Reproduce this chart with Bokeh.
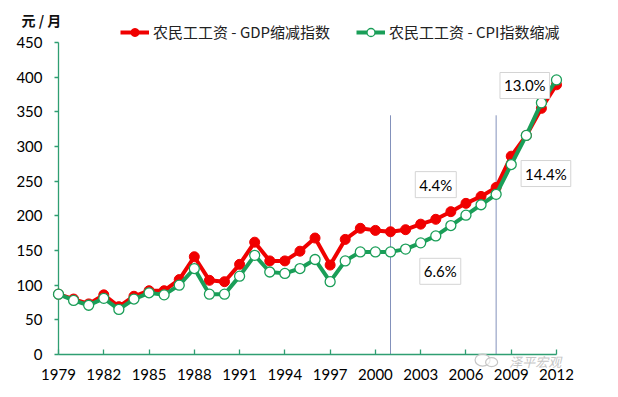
from bokeh.plotting import figure
from bokeh.models import Range1d, Legend, LegendItem, FixedTicker, ColumnDataSource
from bokeh.core.properties import value
from bokeh.embed import file_html
from bokeh.resources import INLINE

years = list(range(1979, 2013))
gdp_deflated = [87, 80, 73, 86, 69, 84, 92, 92, 108, 141,
                107, 105, 130, 162, 135, 135, 149, 168, 129, 166,
                182, 179, 177, 180, 188, 195, 206, 218, 228, 241,
                286, 316, 355, 389]
cpi_deflated = [87, 78, 71, 81, 65, 80, 89, 86, 100, 124,
                87, 87, 113, 143, 119, 117, 124, 137, 105, 135,
                148, 148, 148, 152, 161, 171, 186, 201, 216, 231,
                274, 316, 363, 396]
series_names = ["农民工工资 - GDP缩减指数", "农民工工资 - CPI指数缩减"]
y_ticks = [0, 50, 100, 150, 200, 250, 300, 350, 400, 450]
x_ticks = [1979, 1982, 1985, 1988, 1991, 1994, 1997, 2000, 2003, 2006, 2009, 2012]
marker_years = [2001, 2008]
marker_top = [345, 345]
growth_labels = ["4.4%", "6.6%", "13.0%", "14.4%"]
growth_x = [2004.0, 2004.3, 2009.9, 2011.3]
growth_y = [245, 120, 388, 261]
unit_label = ["元 / 月"]
unit_pos = ([1976.55], [483])
watermark = ["泽平宏观"]
watermark_pos = ([2010.6], [-10])
logo_pos = ([2007.1, 2007.7], [-8, -11])

RED = "#f00000"
GREEN = "#1a9e58"
AXIS = "#2f9e72"
WM = "#c6c6c6"

# frame extends 20px above the 450 line (legend) and 20px right of 2012
p = figure(width=610, height=389, output_backend="svg", toolbar_location=None,
           x_range=Range1d(1979, 2012 + 33 * 20 / 498), y_range=Range1d(0, 450 * 332 / 312),
           min_border_left=58, min_border_right=34, min_border_top=22, min_border_bottom=35)
p.outline_line_color = None
p.xgrid.visible = False
p.ygrid.visible = False
p.background_fill_color = "white"

for ax in (p.xaxis, p.yaxis):
    ax.axis_line_color = None
    ax.major_tick_line_color = AXIS
    ax.major_tick_line_width = 1.3
    ax.minor_tick_line_color = None
    ax.major_label_text_font = "Lato"
    ax.major_label_text_font_size = "15px"
    ax.major_label_text_color = "black"

p.yaxis.ticker = FixedTicker(ticks=y_ticks)
p.yaxis.major_tick_out = 4
p.yaxis.major_tick_in = 0
p.yaxis.major_label_standoff = 12
p.xaxis.ticker = FixedTicker(ticks=x_ticks)
p.xaxis.major_tick_out = 0
p.xaxis.major_tick_in = 5
p.xaxis.major_label_standoff = 14

# axis lines spanning only the tick range
p.segment(x0=[years[0], years[0]], y0=[y_ticks[0], y_ticks[0]],
          x1=[years[0], years[-1]], y1=[y_ticks[-1], y_ticks[0]],
          line_color=AXIS, line_width=1.3, level="overlay")

src = ColumnDataSource(dict(x=years, gdp=gdp_deflated, cpi=cpi_deflated))

# vertical period separators
p.segment(x0=marker_years, y0=[0, 0], x1=marker_years, y1=marker_top,
          line_color="#8391bb", line_width=1)

r1 = p.line("x", "gdp", source=src, line_color=RED, line_width=4, level="overlay")
r2 = p.scatter("x", "gdp", source=src, size=10, fill_color=RED, line_color=RED, level="overlay")
r3 = p.line("x", "cpi", source=src, line_color=GREEN, line_width=4, level="overlay")
r4 = p.scatter("x", "cpi", source=src, size=10, fill_color="white", line_color=GREEN,
               line_width=1.3, level="overlay")

legend = Legend(items=[LegendItem(label=series_names[0], renderers=[r1, r2]),
                       LegendItem(label=series_names[1], renderers=[r3, r4])],
                orientation="horizontal", location="top_left",
                label_text_font="Noto Sans CJK SC", label_text_font_size="15px",
                label_text_color="#222222",
                glyph_width=29, glyph_height=20, label_height=20, label_standoff=4,
                spacing=26, padding=0, margin=0,
                border_line_color=None, background_fill_alpha=0)
legend.location = (62, 312)
p.add_layout(legend, "center")

lab_src = ColumnDataSource(dict(x=growth_x, y=growth_y, text=growth_labels))
p.text("x", "y", text="text", source=lab_src, text_align="center", text_baseline="middle",
       text_font=value("Lato"), text_font_size="15px", text_color="black",
       background_fill_color="white", border_line_color="#d4d4d4", border_line_width=1,
       padding=4, level="overlay")

p.text(x=unit_pos[0], y=unit_pos[1], text=unit_label, text_align="left", text_baseline="middle",
       text_font=value("Noto Sans CJK SC"), text_font_size="14px", text_font_style="bold",
       text_color="#111111", level="overlay")

# watermark
p.ellipse(x=logo_pos[0], y=logo_pos[1], width=[15, 12], height=[12, 9],
          width_units="screen", height_units="screen",
          fill_color="white", fill_alpha=0.6, line_color=WM, line_width=1.2, level="overlay")
p.text(x=watermark_pos[0], y=watermark_pos[1], text=watermark, text_align="center",
       text_baseline="middle", text_font=value("Noto Sans CJK SC"), text_font_size="13px",
       text_font_style="italic", text_color=WM, level="overlay")

open("out.html", "w").write(file_html(p, INLINE))
